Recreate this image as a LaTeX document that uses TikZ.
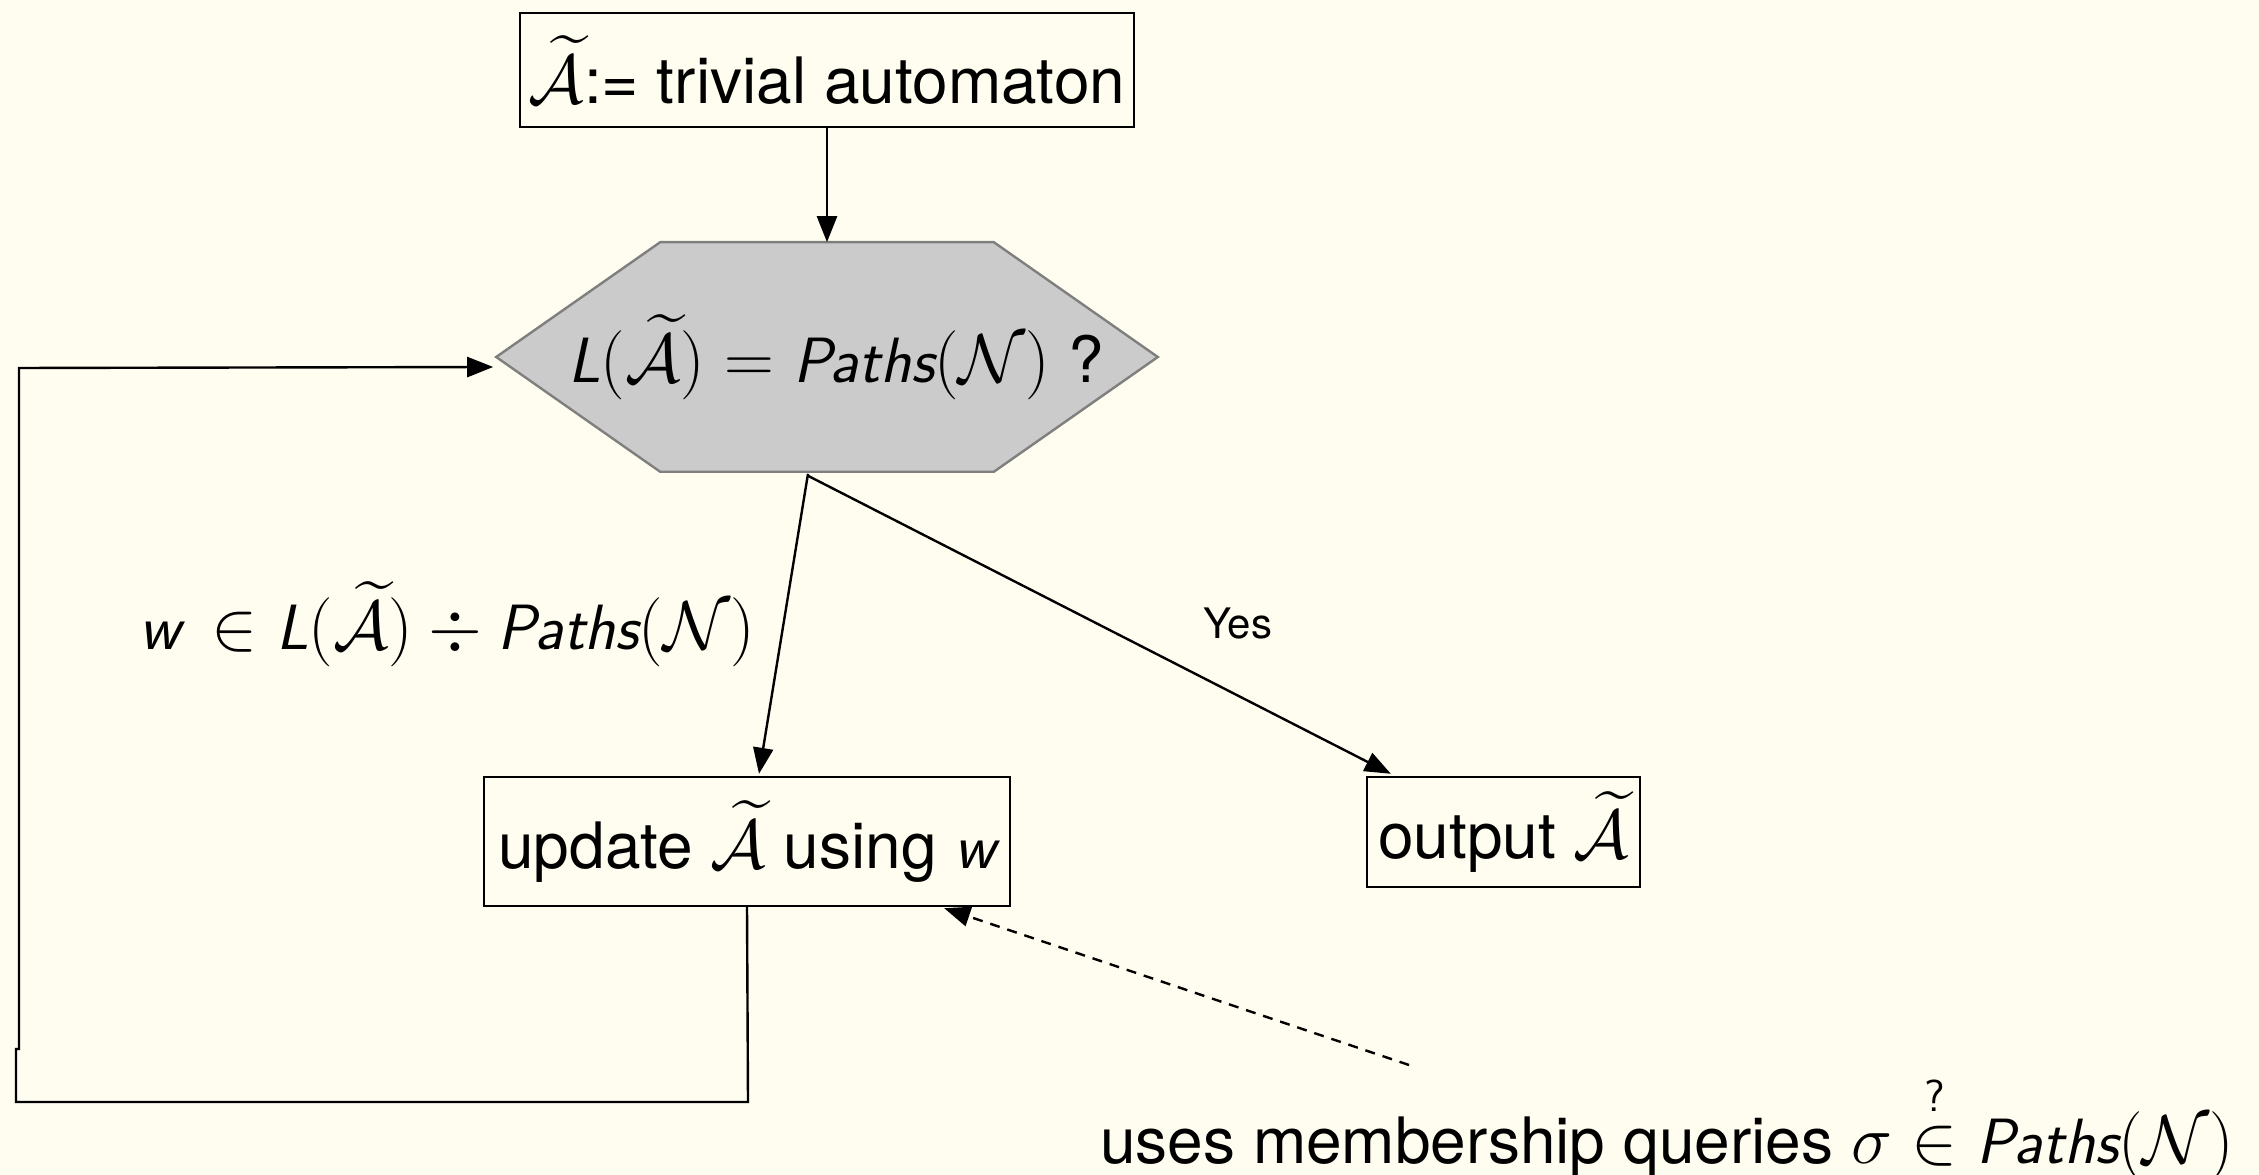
\documentclass[tikz,border=0pt]{standalone}
\usepackage{amsmath}
\usepackage{fontspec}
\setmainfont{TeX Gyre Heros}
\usetikzlibrary{arrows.meta,calc}
\definecolor{bg}{HTML}{FFFDF0}
\definecolor{hexfill}{HTML}{CBCBCB}
\definecolor{hexline}{HTML}{7F7F7F}
\newcommand{\msf}[1]{\text{\normalfont\sffamily\itshape #1}}
\newcommand{\At}{\widetilde{\mathcal{A}}}
\begin{document}
\begin{tikzpicture}[x=0.25pt,y=-0.25pt,
  every node/.style={font=\fontsize{16}{19}\selectfont},
  box/.style={draw, line width=0.6pt, inner sep=0pt},
  conn/.style={line width=0.6pt, -{Triangle[length=6.5pt,width=5pt]}},
  dconn/.style={conn, dash pattern=on 2.5pt off 2pt},
]
\fill[bg] (0,0) rectangle (2259,1175);
\useasboundingbox (0,0) rectangle (2259,1175);
\node[box, minimum width=153.5pt, minimum height=28.5pt] (top) at (827,70) {$\At$:= trivial automaton};
\node[minimum width=165pt, minimum height=57pt, inner sep=0pt] (hex) at (827,357) {};
\filldraw[fill=hexfill, draw=hexline, line width=0.6pt] (hex.west) -- ($(hex.north west)+(164,0)$) -- ($(hex.north east)+(-164,0)$) -- (hex.east) -- ($(hex.south east)+(-164,0)$) -- ($(hex.south west)+(164,0)$) -- cycle;
\node (hextext) at (836,357) {$\msf{L}(\At) = \msf{Paths}(\mathcal{N})$ ?};
\node[box, minimum width=131.5pt, minimum height=32.25pt] (update) at (747,841.5) {update $\At$ using $\msf{w}$};
\node[box, minimum width=68.25pt, minimum height=27.5pt] (output) at (1503.5,832) {output $\At$};
\draw[conn] (top.south) -- (hex.north);
\draw[conn] ($(hex.south)+(-19,2)$) -- ($(update.north)+(12,-2)$);
\draw[conn] ($(hex.south)+(-19,4)$) -- ($(output.north west)+(25,-2)$);
\coordinate (q) at (1409,1065);
\draw[dconn] (q) -- ($(update.south east)+(-67,1)$);
\draw[conn] (update.south) -- (748,1102) -- (16,1102) -- (16,1049) -- (19,1049) -- (19,368) -- ($(hex.west)+(-3,10)$);
\node (lab) at (447,624) {$\msf{w}\,\in \msf{L}(\At) \div \msf{Paths}(\mathcal{N})$};
\node[font=\fontsize{10.5}{12}\selectfont] (yes) at (1238,624) {Yes};
\node[anchor=base] (mq) at (1667,1163) {uses membership queries $\sigma \overset{\text{\sffamily ?}}{\in} \msf{Paths}(\mathcal{N})$};
\end{tikzpicture}
\end{document}
